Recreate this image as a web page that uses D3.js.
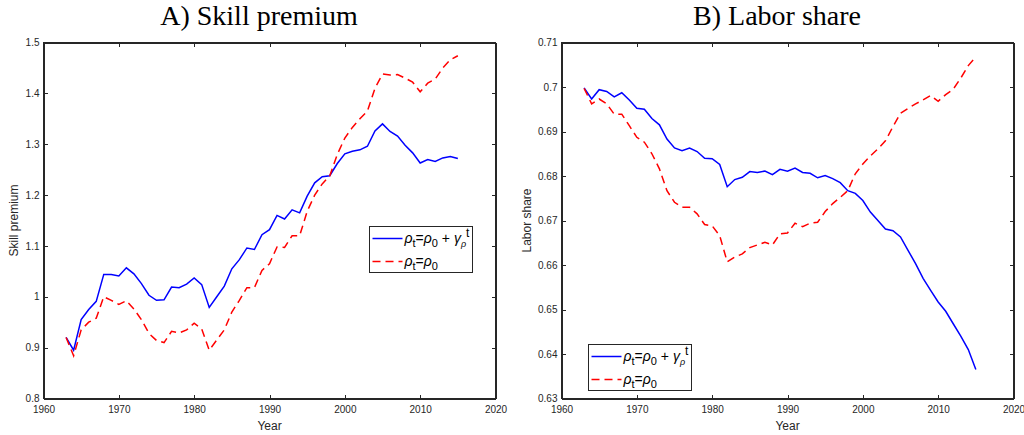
<!DOCTYPE html>
<html>
<head>
<meta charset="utf-8">
<script src="https://cdnjs.cloudflare.com/ajax/libs/d3/7.8.5/d3.min.js"></script>
<style>
body, html {
  margin: 0;
  padding: 0;
  background: white;
  overflow: hidden;
}
.axis text {
  font-family: "Liberation Sans", Arial, sans-serif;
  font-size: 10px;
  fill: #262626;
}
.axis path, .axis line {
  stroke: #262626;
  stroke-width: 1;
  shape-rendering: crispEdges;
}
.title {
  font-family: "Liberation Serif", "Times New Roman", serif;
  font-size: 28px;
  fill: #000;
}
.label {
  font-family: "Liberation Sans", Arial, sans-serif;
  font-size: 12px;
  fill: #262626;
}
.legend text {
  font-family: "Liberation Sans", Arial, sans-serif;
  font-size: 14px;
  fill: #000;
}
</style>
</head>
<body>
<div id="chart"></div>
<script>

// data
var years = [1963, 1964, 1965, 1966, 1967, 1968, 1969, 1970, 1971, 1972,
             1973, 1974, 1975, 1976, 1977, 1978, 1979, 1980, 1981, 1982,
             1983, 1984, 1985, 1986, 1987, 1988, 1989, 1990, 1991, 1992,
             1993, 1994, 1995, 1996, 1997, 1998, 1999, 2000, 2001, 2002,
             2003, 2004, 2005, 2006, 2007, 2008, 2009, 2010, 2011, 2012,
             2013, 2014, 2015]

var skillTrend = [0.920, 0.895, 0.955, 0.975, 0.991, 1.044, 1.044, 1.041, 1.057, 1.045,
                  1.026, 1.003, 0.993, 0.994, 1.019, 1.018, 1.025, 1.037, 1.024, 0.979,
                  1.000, 1.021, 1.055, 1.073, 1.096, 1.093, 1.122, 1.132, 1.160, 1.153,
                  1.171, 1.165, 1.198, 1.224, 1.236, 1.238, 1.262, 1.281, 1.286, 1.289,
                  1.296, 1.326, 1.340, 1.325, 1.316, 1.298, 1.283, 1.263, 1.270, 1.266,
                  1.273, 1.276, 1.272]

var skillConst = [0.920, 0.884, 0.935, 0.950, 0.958, 1.000, 0.993, 0.985, 0.992, 0.976,
                  0.955, 0.928, 0.914, 0.910, 0.932, 0.929, 0.935, 0.948, 0.937, 0.895,
                  0.915, 0.935, 0.970, 0.993, 1.018, 1.018, 1.052, 1.065, 1.098, 1.097,
                  1.120, 1.120, 1.168, 1.200, 1.222, 1.238, 1.280, 1.312, 1.333, 1.350,
                  1.365, 1.410, 1.438, 1.436, 1.437, 1.430, 1.422, 1.403, 1.420, 1.428,
                  1.450, 1.466, 1.474]

var laborTrend = [0.6998, 0.6973, 0.6994, 0.6990, 0.6978, 0.6987, 0.6971, 0.6952, 0.6950, 0.6929,
                  0.6915, 0.6883, 0.6863, 0.6857, 0.6863, 0.6855, 0.6840, 0.6839, 0.6826, 0.6776,
                  0.6792, 0.6797, 0.6810, 0.6808, 0.6811, 0.6803, 0.6815, 0.6811, 0.6818, 0.6808,
                  0.6806, 0.6796, 0.6801, 0.6794, 0.6785, 0.6767, 0.6761, 0.6745, 0.6719, 0.6700,
                  0.6681, 0.6677, 0.6663, 0.6633, 0.6603, 0.6570, 0.6543, 0.6517, 0.6496, 0.6468,
                  0.6440, 0.6410, 0.6365]

var laborConst = [0.6997, 0.6962, 0.6973, 0.6962, 0.6939, 0.6939, 0.6913, 0.6887, 0.6876, 0.6850,
                  0.6816, 0.6767, 0.6741, 0.6730, 0.6730, 0.6715, 0.6691, 0.6688, 0.6666, 0.6607,
                  0.6618, 0.6625, 0.6639, 0.6645, 0.6651, 0.6645, 0.6670, 0.6672, 0.6694, 0.6686,
                  0.6694, 0.6696, 0.6720, 0.6738, 0.6752, 0.6767, 0.6805, 0.6827, 0.6845, 0.6861,
                  0.6879, 0.6911, 0.6941, 0.6952, 0.6962, 0.6971, 0.6981, 0.6968, 0.6983, 0.6995,
                  0.7020, 0.7048, 0.7068]

var yearTicks = [1960, 1970, 1980, 1990, 2000, 2010, 2020]
var skillTicks = [0.8, 0.9, 1.0, 1.1, 1.2, 1.3, 1.4, 1.5]
var laborTicks = [0.63, 0.64, 0.65, 0.66, 0.67, 0.68, 0.69, 0.70, 0.71]

var W = 1024, H = 435

var svg = d3.select("#chart").append("svg")
  .attr("width", W)
  .attr("height", H)

function drawPanel(p) {
  var x = d3.scaleLinear().domain([1960, 2020]).range([p.left, p.right])
  var y = d3.scaleLinear().domain(p.ydomain).range([p.bottom, p.top])

  var g = svg.append("g")

  // title
  g.append("text")
    .attr("class", "title")
    .attr("x", p.titleX)
    .attr("y", 25)
    .attr("text-anchor", "middle")
    .text(p.title)

  // box
  g.append("rect")
    .attr("x", p.left)
    .attr("y", p.top)
    .attr("width", p.right - p.left)
    .attr("height", p.bottom - p.top)
    .attr("fill", "white")
    .attr("stroke", "#262626")
    .attr("stroke-width", 1)
    .attr("shape-rendering", "crispEdges")

  // axes, ticks pointing in like matlab
  g.append("g")
    .attr("class", "axis")
    .attr("transform", "translate(0," + p.bottom + ")")
    .call(d3.axisBottom(x).tickValues(yearTicks).tickFormat(d3.format("d"))
      .tickSizeInner(-4).tickSizeOuter(0).tickPadding(7.5))

  g.append("g")
    .attr("class", "axis")
    .attr("transform", "translate(0," + p.top + ")")
    .call(d3.axisTop(x).tickValues(yearTicks).tickFormat("")
      .tickSizeInner(-4).tickSizeOuter(0))

  g.append("g")
    .attr("class", "axis")
    .attr("transform", "translate(" + p.left + ",0)")
    .call(d3.axisLeft(y).tickValues(p.yticks).tickFormat(p.yfmt)
      .tickSizeInner(-4).tickSizeOuter(0).tickPadding(4))

  g.append("g")
    .attr("class", "axis")
    .attr("transform", "translate(" + p.right + ",0)")
    .call(d3.axisRight(y).tickValues(p.yticks).tickFormat("")
      .tickSizeInner(-4).tickSizeOuter(0))

  // axis labels
  g.append("text")
    .attr("class", "label")
    .attr("x", (p.left + p.right) / 2)
    .attr("y", 430)
    .attr("text-anchor", "middle")
    .text("Year")

  g.append("text")
    .attr("class", "label")
    .attr("transform", "translate(" + p.ylabelX + "," + (p.top + p.bottom) / 2 + ") rotate(-90)")
    .attr("text-anchor", "middle")
    .attr("dy", "0.35em")
    .text(p.ylabel)

  var line = d3.line()
    .x(function(d, i) { return x(years[i]) })
    .y(function(d) { return y(d) })

  g.append("path")
    .datum(p.trend)
    .attr("d", line)
    .style("fill", "none")
    .style("stroke", "#0000ff")
    .style("stroke-width", 1.5)

  g.append("path")
    .datum(p.constant)
    .attr("d", line)
    .style("fill", "none")
    .style("stroke", "#ff0000")
    .style("stroke-width", 1.5)
    .style("stroke-dasharray", "8,5")

  drawLegend(g, p.legendX, p.legendY)
}

function drawLegend(g, lx, ly) {
  var leg = g.append("g").attr("class", "legend")
    .attr("transform", "translate(" + lx + "," + ly + ")")

  leg.append("rect")
    .attr("width", 103)
    .attr("height", 46)
    .attr("fill", "white")
    .attr("stroke", "#262626")
    .attr("stroke-width", 1)
    .attr("shape-rendering", "crispEdges")

  var rows = [
    {color: "#0000ff", dash: null, y: 12, withTrend: true},
    {color: "#ff0000", dash: "8,5", y: 35, withTrend: false}
  ]

  rows.forEach(function(r) {
    leg.append("line")
      .attr("x1", 3).attr("x2", 33)
      .attr("y1", r.y).attr("y2", r.y)
      .style("stroke", r.color)
      .style("stroke-width", 1.5)
      .style("stroke-dasharray", r.dash)

    var t = leg.append("text").attr("x", 35).attr("y", r.y + 4)
    t.append("tspan").style("font-style", "italic").text("\u03c1")
    t.append("tspan").attr("dy", 4).style("font-size", "11px").text("t")
    t.append("tspan").attr("dy", -4).text("=")
    t.append("tspan").style("font-style", "italic").text("\u03c1")
    t.append("tspan").attr("dy", 4).style("font-size", "11px").text("0")
    if (r.withTrend) {
      t.append("tspan").attr("dy", -4).text(" + ")
      t.append("tspan").style("font-style", "italic").text("\u03b3")
      t.append("tspan").attr("dy", 4).style("font-size", "9px").style("font-style", "italic").text("\u03c1")
      t.append("tspan").attr("dy", -10).style("font-size", "12px").text("t")
    }
  })
}

drawPanel({
  title: "A) Skill premium", titleX: 259,
  left: 43.5, right: 495.5, top: 42.5, bottom: 398.5,
  ydomain: [0.8, 1.5], yticks: skillTicks, yfmt: d3.format("~g"),
  ylabel: "Skill premium", ylabelX: 14,
  trend: skillTrend, constant: skillConst,
  legendX: 369.5, legendY: 226.5
})

drawPanel({
  title: "B) Labor share", titleX: 777,
  left: 561.5, right: 1013.5, top: 42.5, bottom: 398.5,
  ydomain: [0.63, 0.71], yticks: laborTicks, yfmt: d3.format("~g"),
  ylabel: "Labor share", ylabelX: 527,
  trend: laborTrend, constant: laborConst,
  legendX: 588.5, legendY: 344.5
})

</script>
</body>
</html>
